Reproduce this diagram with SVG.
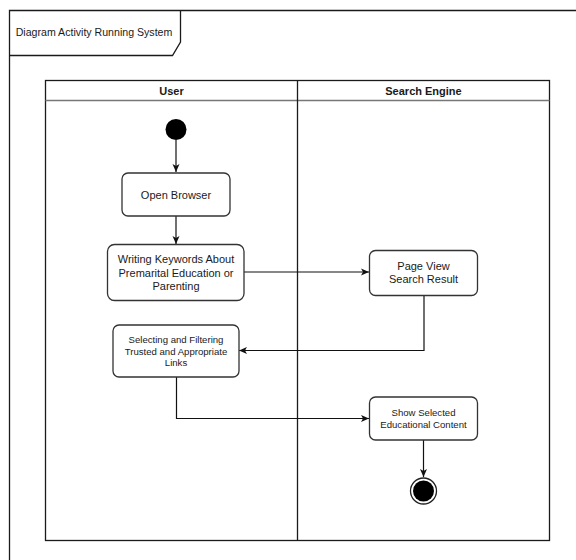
<svg xmlns="http://www.w3.org/2000/svg" width="576" height="560" viewBox="0 0 576 560">
<defs>
<style>
.ln{fill:none;stroke:#1a1a1a;stroke-width:1.3}
.box{fill:#fff;stroke:#333;stroke-width:1.3}
.t{font-family:"Liberation Sans",Arial,sans-serif;font-size:11px;fill:#1a1a1a;text-anchor:middle}
.s{font-size:9.6px}
.h{font-weight:bold}
.c{fill:none;stroke:#111;stroke-width:1.2}
</style>
<marker id="ah" markerWidth="10" markerHeight="10" refX="9" refY="5" orient="auto" markerUnits="userSpaceOnUse">
<path d="M1,1.5 L9,5 L1,8.5 L3,5 Z" fill="#111"/>
</marker>
</defs>
<rect width="576" height="560" fill="#fff"/>
<g id="frame">
<path class="ln" d="M9.5,565 L9.5,10.5 L580,10.5"/>
<path class="ln" d="M9.5,55.5 L172.5,55.5 L180.5,42 L180.5,10.5"/>
<text class="t" x="94" y="36" style="font-size:10.6px">Diagram Activity Running System</text>
</g>
<g id="lanes">
<rect x="45.5" y="80.5" width="504" height="460" fill="none" stroke="#1a1a1a" stroke-width="1.3"/>
<line x1="45.5" y1="100.5" x2="549.5" y2="100.5" stroke="#777" stroke-width="1.3"/>
<line x1="297.5" y1="80.5" x2="297.5" y2="540.5" stroke="#1a1a1a" stroke-width="1.3"/>
<text class="t h" x="171.5" y="94.5">User</text>
<text class="t h" x="423.5" y="94.5">Search Engine</text>
</g>
<g id="connectors">
<line class="c" x1="176" y1="140" x2="176" y2="172" marker-end="url(#ah)"/>
<line class="c" x1="176" y1="216" x2="176" y2="244" marker-end="url(#ah)"/>
<line class="c" x1="244" y1="272" x2="369" y2="272" marker-end="url(#ah)"/>
<polyline class="c" points="424,295 424,350.5 239,350.5" marker-end="url(#ah)"/>
<polyline class="c" points="176.5,377 176.5,418.5 369,418.5" marker-end="url(#ah)"/>
<line class="c" x1="423.5" y1="440" x2="423.5" y2="477" marker-end="url(#ah)"/>
</g>
<g id="start">
<circle cx="176" cy="129.5" r="10.5" fill="#000"/>
</g>
<g id="open-browser">
<rect class="box" x="122" y="173" width="108" height="43" rx="6"/>
<text class="t" x="176" y="199">Open Browser</text>
</g>
<g id="writing-keywords">
<rect class="box" x="107.5" y="244.5" width="136.5" height="56" rx="7"/>
<text class="t" x="176" y="263">Writing Keywords About</text>
<text class="t" x="176" y="276.5">Premarital Education or</text>
<text class="t" x="176" y="290">Parenting</text>
</g>
<g id="page-view">
<rect class="box" x="369.5" y="250.5" width="108" height="45" rx="6"/>
<text class="t" x="423.5" y="270">Page View</text>
<text class="t" x="423.5" y="283">Search Result</text>
</g>
<g id="selecting">
<rect class="box" x="113" y="325" width="126" height="52" rx="6"/>
<text class="t s" x="176" y="342.5">Selecting and Filtering</text>
<text class="t s" x="176" y="354.5">Trusted and Appropriate</text>
<text class="t s" x="176" y="366">Links</text>
</g>
<g id="show-selected">
<rect class="box" x="369.5" y="397" width="108" height="43" rx="6"/>
<text class="t s" x="423.5" y="415.5">Show Selected</text>
<text class="t s" x="423.5" y="428">Educational Content</text>
</g>
<g id="end">
<circle cx="423.5" cy="491" r="13" fill="#fff" stroke="#222" stroke-width="1.3"/>
<circle cx="423.5" cy="491" r="10.5" fill="#000"/>
</g>
</svg>
